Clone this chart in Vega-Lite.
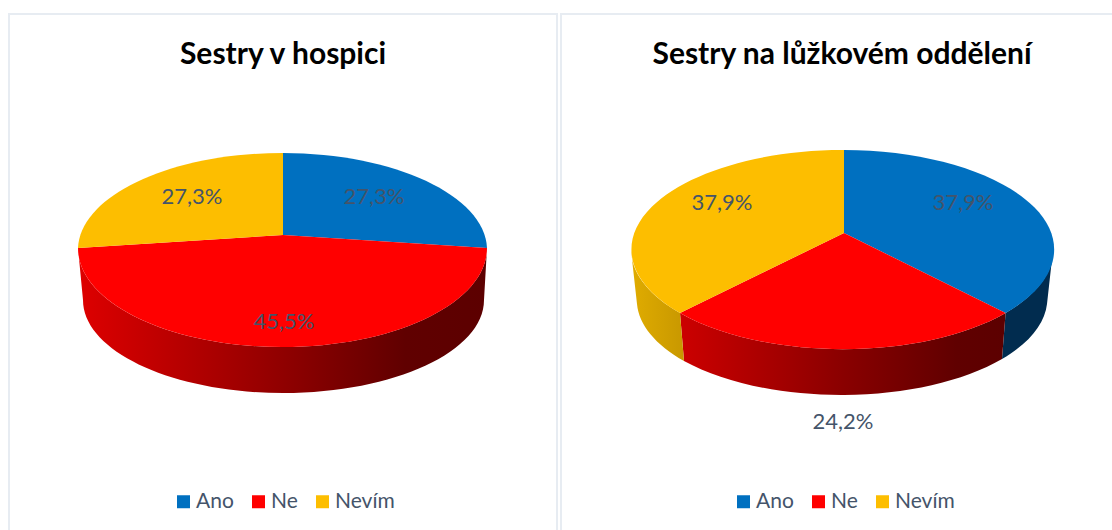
{"$schema":"https://vega.github.io/schema/vega-lite/v6.json","background":"white","padding":{"left":8,"top":13,"right":0,"bottom":0},"spacing":2,
"config":{"font":"Lato","text":{"font":"Lato"}},
"data":{"values":[
{"panel":"hospic","answer":"Ano","value":27.3,"label":"27,3%"},
{"panel":"hospic","answer":"Ne","value":45.5,"label":"45,5%"},
{"panel":"hospic","answer":"Nevím","value":27.3,"label":"27,3%"},
{"panel":"oddeleni","answer":"Ano","value":37.9,"label":"37,9%"},
{"panel":"oddeleni","answer":"Ne","value":24.2,"label":"24,2%"},
{"panel":"oddeleni","answer":"Nevím","value":37.9,"label":"37,9%"}]},
"resolve":{"scale":{"color":"independent"},"legend":{"color":"independent"}},
"hconcat":[
{"title":{"text":"Sestry v hospici","font":"Lato","fontSize":30,"fontWeight":"bold","color":"#000000","anchor":"middle","offset":-56},
"view":{"stroke":"#e7ecf2","strokeWidth":2},
"width":548,"height":518,"transform":[{"filter":"datum.panel==='hospic'"}],
"layer":[
{"mark":{"type":"square","opacity":0,"size":1},"encoding":{"color":{"field":"answer","type":"nominal","scale":{"domain":["Ano","Ne","Nevím"],"range":["#0070c0","#ff0000","#fdbe00"]},"legend":{"orient":"none","legendX":164,"legendY":477,"direction":"horizontal","columns":3,"title":null,"symbolType":"square","symbolSize":169,"symbolStrokeWidth":0,"labelFont":"Lato","labelFontSize":21,"labelColor":"#44546a","labelOffset":2,"columnPadding":14,"symbolOpacity":1}}}},
{"transform":[{"filter":"datum.answer==='Ne'"}],"mark":{"type":"point","yOffset":-1,"filled":true,"opacity":1,"strokeWidth":0,"size":4,"shape":"M204,-24 A204.5,99 0 0 1 -205,-24 L-200,28 A200.5,93 0 0 0 201,28 Z","fill":{"gradient":"linear","x1":0,"y1":0,"x2":1,"y2":0,"stops":[{"offset":0,"color":"#de0000"},{"offset":0.5,"color":"#900000"},{"offset":0.8,"color":"#600000"},{"offset":1,"color":"#5c0000"}]}},"encoding":{}},
{"transform":[{"filter":"datum.answer==='Ano'"}],"mark":{"type":"point","yOffset":-1,"filled":true,"opacity":1,"strokeWidth":0,"size":4,"shape":"M0,-37 L0,-119 A205,97 0 0 1 204,-24 Z"},"encoding":{"color":{"field":"answer","type":"nominal","legend":null}}},
{"transform":[{"filter":"datum.answer==='Ne'"}],"mark":{"type":"point","yOffset":-1,"filled":true,"opacity":1,"strokeWidth":0,"size":4,"shape":"M0,-37 L204,-24 A204.5,99 0 0 1 -205,-24 Z"},"encoding":{"color":{"field":"answer","type":"nominal","legend":null}}},
{"transform":[{"filter":"datum.answer==='Nevím'"}],"mark":{"type":"point","yOffset":-1,"filled":true,"opacity":1,"strokeWidth":0,"size":4,"shape":"M0,-37 L-205,-24 A205,97 0 0 1 0,-119 Z"},"encoding":{"color":{"field":"answer","type":"nominal","legend":null}}},
{"transform":[{"filter":"datum.answer==='Ano'"}],"mark":{"type":"text","fontSize":22,"color":"#44546a","dx":91,"dy":-76},"encoding":{"text":{"field":"label"}}},
{"transform":[{"filter":"datum.answer==='Ne'"}],"mark":{"type":"text","fontSize":22,"color":"#44546a","dx":1,"dy":49},"encoding":{"text":{"field":"label"}}},
{"transform":[{"filter":"datum.answer==='Nevím'"}],"mark":{"type":"text","fontSize":22,"color":"#44546a","dx":-91,"dy":-76},"encoding":{"text":{"field":"label"}}}
]},
{"title":{"text":"Sestry na lůžkovém oddělení","font":"Lato","fontSize":30,"fontWeight":"bold","color":"#000000","anchor":"middle","offset":-56,"dx":4},
"view":{"stroke":"#e7ecf2","strokeWidth":2},
"width":554,"height":518,"transform":[{"filter":"datum.panel==='oddeleni'"}],
"layer":[
{"mark":{"type":"square","opacity":0,"size":1},"encoding":{"color":{"field":"answer","type":"nominal","scale":{"domain":["Ano","Ne","Nevím"],"range":["#0070c0","#ff0000","#fdbe00"]},"legend":{"orient":"none","legendX":172,"legendY":477,"direction":"horizontal","columns":3,"title":null,"symbolType":"square","symbolSize":169,"symbolStrokeWidth":0,"labelFont":"Lato","labelFontSize":21,"labelColor":"#44546a","labelOffset":2,"columnPadding":14,"symbolOpacity":1}}}},
{"transform":[{"filter":"datum.answer==='Ano'"}],"mark":{"type":"point","xOffset":-1,"yOffset":-1,"filled":true,"opacity":1,"strokeWidth":0,"size":4,"shape":"M216,-22 A211,99.5 0 0 1 168.6,41 L165,87 A206,96 0 0 0 210,32 Z","fill":"#012c4f"},"encoding":{}},
{"transform":[{"filter":"datum.answer==='Ne'"}],"mark":{"type":"point","xOffset":-1,"yOffset":-1,"filled":true,"opacity":1,"strokeWidth":0,"size":4,"shape":"M168.6,41 A211,99.5 0 0 1 -157,41 L-153,89 A206,96 0 0 0 165,87 Z","fill":{"gradient":"linear","x1":0,"y1":0,"x2":1,"y2":0,"stops":[{"offset":0,"color":"#cc0000"},{"offset":0.5,"color":"#8a0000"},{"offset":0.85,"color":"#600000"},{"offset":1,"color":"#5c0000"}]}},"encoding":{}},
{"transform":[{"filter":"datum.answer==='Nevím'"}],"mark":{"type":"point","xOffset":-1,"yOffset":-1,"filled":true,"opacity":1,"strokeWidth":0,"size":4,"shape":"M-157,41 A211,99.5 0 0 1 -206,-22 L-200,32 A206,96 0 0 0 -153,89 Z","fill":{"gradient":"linear","x1":0,"y1":0,"x2":1,"y2":0,"stops":[{"offset":0,"color":"#e0ac00"},{"offset":1,"color":"#c89800"}]}},"encoding":{}},
{"transform":[{"filter":"datum.answer==='Ano'"}],"mark":{"type":"point","xOffset":-1,"yOffset":-1,"filled":true,"opacity":1,"strokeWidth":0,"size":4,"shape":"M7,-39 L7,-122 A211,99.5 0 0 1 168.6,41 Z"},"encoding":{"color":{"field":"answer","type":"nominal","legend":null}}},
{"transform":[{"filter":"datum.answer==='Ne'"}],"mark":{"type":"point","xOffset":-1,"yOffset":-1,"filled":true,"opacity":1,"strokeWidth":0,"size":4,"shape":"M7,-39 L168.6,41 A211,99.5 0 0 1 -157,41 Z"},"encoding":{"color":{"field":"answer","type":"nominal","legend":null}}},
{"transform":[{"filter":"datum.answer==='Nevím'"}],"mark":{"type":"point","xOffset":-1,"yOffset":-1,"filled":true,"opacity":1,"strokeWidth":0,"size":4,"shape":"M7,-39 L-157,41 A211,99.5 0 0 1 7,-122 Z"},"encoding":{"color":{"field":"answer","type":"nominal","legend":null}}},
{"transform":[{"filter":"datum.answer==='Ano'"}],"mark":{"type":"text","fontSize":22,"color":"#44546a","dx":125,"dy":-70},"encoding":{"text":{"field":"label"}}},
{"transform":[{"filter":"datum.answer==='Ne'"}],"mark":{"type":"text","fontSize":22,"color":"#44546a","dx":5,"dy":149},"encoding":{"text":{"field":"label"}}},
{"transform":[{"filter":"datum.answer==='Nevím'"}],"mark":{"type":"text","fontSize":22,"color":"#44546a","dx":-116,"dy":-70},"encoding":{"text":{"field":"label"}}}
]}
]}
